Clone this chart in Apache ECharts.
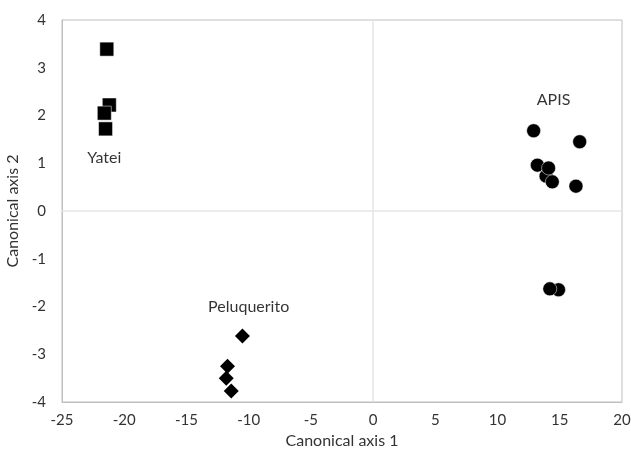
<!DOCTYPE html>
<html>
<head>
<meta charset="utf-8">
<script src="https://cdn.jsdelivr.net/npm/echarts@6/dist/echarts.min.js"></script>
<style>
html, body { margin: 0; padding: 0; background: #fff; }
#main { width: 631px; height: 456px; }
</style>
</head>
<body>
<div id="main"></div>
<script>
// 各组点位 [canonical axis 1, canonical axis 2]
var yatei = [[-21.4, 3.39], [-21.2, 2.22], [-21.6, 2.05], [-21.5, 1.72]];
var apis = [[12.9, 1.68], [16.6, 1.45], [13.2, 0.96], [13.9, 0.73], [14.1, 0.90],
            [14.4, 0.61], [16.3, 0.52], [14.9, -1.65], [14.2, -1.63]];
var peluquerito = [[-10.5, -2.62], [-11.7, -3.25], [-11.8, -3.50], [-11.4, -3.77]];
// 组名标注
var groupNames = ['Yatei', 'APIS', 'Peluquerito'];
var groupLabelAt = [[-21.6, 1.11], [14.5, 2.32], [-10.0, -2.01]];

var xTicks = { min: -25, max: 20, interval: 5 };
var yTicks = { min: -4, max: 4, interval: 1 };

var chart = echarts.init(document.getElementById('main'));
var fontFam = 'Lato, "Open Sans", sans-serif';

var labelData = [];
for (var i = 0; i < groupNames.length; i++) {
    labelData.push({ value: groupLabelAt[i], name: groupNames[i] });
}

var option = {
    animation: false,
    grid: {
        left: 62, right: 9, top: 20, bottom: 54,
        containLabel: false,
        outerBoundsMode: 'none',
        show: true,
        borderColor: '#bfbfbf',
        borderWidth: 1
    },
    xAxis: {
        type: 'value',
        min: xTicks.min, max: xTicks.max, interval: xTicks.interval,
        name: 'Canonical axis 1',
        nameLocation: 'middle',
        nameGap: 30,
        nameTextStyle: { color: '#333', fontSize: 16, fontFamily: fontFam },
        axisLine: { onZero: false, lineStyle: { color: '#bfbfbf' } },
        axisTick: { show: false },
        axisLabel: { color: '#333', fontSize: 15, fontFamily: fontFam, margin: 11 },
        splitLine: { show: false }
    },
    yAxis: {
        type: 'value',
        min: yTicks.min, max: yTicks.max, interval: yTicks.interval,
        name: 'Canonical axis 2',
        nameLocation: 'middle',
        nameGap: 37,
        nameTextStyle: { color: '#333', fontSize: 16, fontFamily: fontFam },
        axisLine: { onZero: false, lineStyle: { color: '#bfbfbf' } },
        axisTick: { show: false },
        axisLabel: { color: '#333', fontSize: 15, fontFamily: fontFam, margin: 16 },
        splitLine: { show: false }
    },
    series: [
        {
            type: 'scatter',
            data: [],
            silent: true,
            markLine: {
                silent: true,
                symbol: 'none',
                label: { show: false },
                lineStyle: { color: '#e6e6e6', width: 1.5, type: 'solid' },
                data: [{ xAxis: 0 }, { yAxis: 0 }]
            }
        },
        {
            name: 'Yatei', type: 'scatter', data: yatei,
            symbol: 'rect', symbolSize: 14,
            itemStyle: { color: '#000', borderColor: '#fff', borderWidth: 0.5, opacity: 1 }
        },
        {
            name: 'APIS', type: 'scatter', data: apis,
            symbol: 'circle', symbolSize: 14,
            itemStyle: { color: '#000', borderColor: '#fff', borderWidth: 0.5, opacity: 1 }
        },
        {
            name: 'Peluquerito', type: 'scatter', data: peluquerito,
            symbol: 'diamond', symbolSize: [15, 15],
            itemStyle: { color: '#000', opacity: 1 }
        },
        {
            type: 'scatter', data: labelData,
            symbolSize: 0,
            silent: true,
            label: {
                show: true, position: 'inside',
                formatter: '{b}',
                color: '#000', fontSize: 16, fontFamily: fontFam
            }
        }
    ]
};
chart.setOption(option);
</script>
</body>
</html>
